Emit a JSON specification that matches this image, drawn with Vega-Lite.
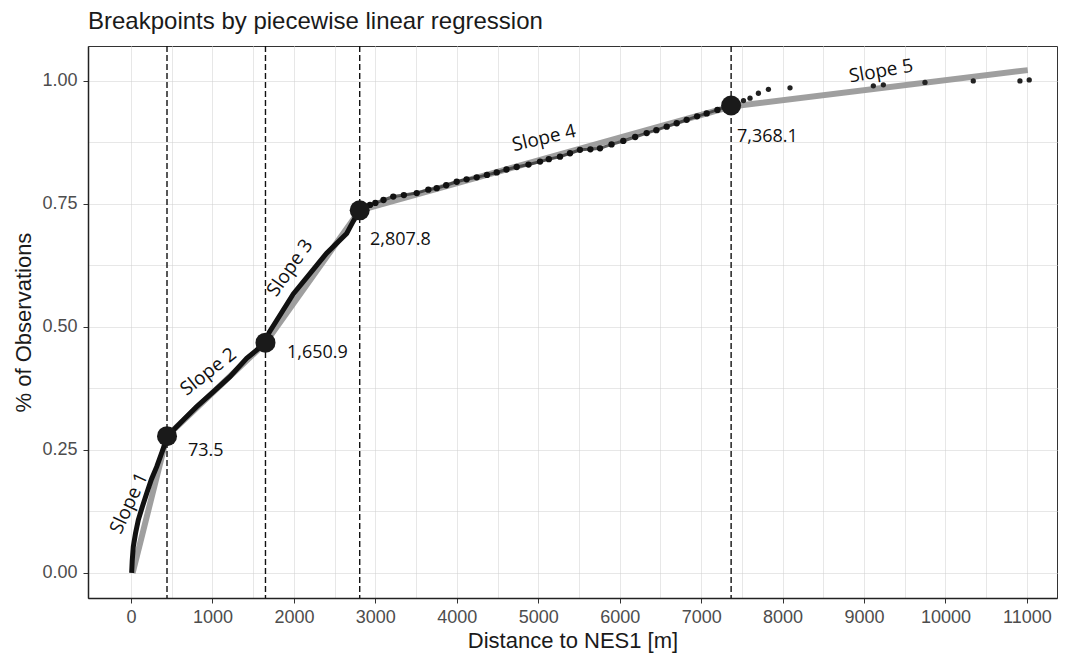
{
  "$schema": "https://vega.github.io/schema/vega-lite/v6.json",
  "autosize": "none",
  "width": 969,
  "height": 552,
  "padding": {"left": 88, "top": 46, "right": 10, "bottom": 60},
  "background": "white",
  "title": {"text": "Breakpoints by piecewise linear regression", "anchor": "start", "frame": "group", "font": "Liberation Sans", "fontSize": 24, "fontWeight": "normal", "color": "#1a1a1a", "offset": 11},
  "config": {
    "view": {"stroke": "#333333", "strokeWidth": 1},
    "axis": {"labelFont": "Liberation Sans", "labelFontSize": 18, "labelColor": "#4d4d4d", "titleFont": "Liberation Sans", "titleFontSize": 22, "titleFontWeight": "normal", "titleColor": "#1a1a1a", "domainColor": "#222222", "domainWidth": 1.5, "tickColor": "#333333", "tickSize": 5, "gridColor": "#cfcfcf", "gridDash": [1, 1], "gridWidth": 1}
  },
  "datasets": {
    "obs": [
      {"x": 8, "y": 0.0}, {"x": 15, "y": 0.025}, {"x": 28, "y": 0.053}, {"x": 55, "y": 0.08}, {"x": 90, "y": 0.108}, {"x": 140, "y": 0.135}, {"x": 193, "y": 0.162}, {"x": 250, "y": 0.19}, {"x": 316, "y": 0.216}, {"x": 397, "y": 0.253}, {"x": 446, "y": 0.278},
      {"x": 642, "y": 0.311}, {"x": 807, "y": 0.338}, {"x": 1010, "y": 0.368}, {"x": 1215, "y": 0.399}, {"x": 1420, "y": 0.436}, {"x": 1624, "y": 0.464},
      {"x": 1700, "y": 0.49}, {"x": 1993, "y": 0.567}, {"x": 2402, "y": 0.65}, {"x": 2648, "y": 0.69}, {"x": 2729, "y": 0.715}, {"x": 2808, "y": 0.737}
    ],
    "dots": [
      {"x": 2860, "y": 0.742}, {"x": 2934, "y": 0.748}, {"x": 3000, "y": 0.752}, {"x": 3100, "y": 0.758}, {"x": 3220, "y": 0.765}, {"x": 3350, "y": 0.768}, {"x": 3508, "y": 0.772}, {"x": 3650, "y": 0.779}, {"x": 3753, "y": 0.782}, {"x": 3870, "y": 0.788}, {"x": 3999, "y": 0.795}, {"x": 4120, "y": 0.8}, {"x": 4244, "y": 0.804}, {"x": 4370, "y": 0.809}, {"x": 4490, "y": 0.814}, {"x": 4610, "y": 0.82}, {"x": 4735, "y": 0.825}, {"x": 4880, "y": 0.83}, {"x": 5022, "y": 0.836}, {"x": 5130, "y": 0.841}, {"x": 5267, "y": 0.846}, {"x": 5390, "y": 0.853}, {"x": 5512, "y": 0.86}, {"x": 5640, "y": 0.861}, {"x": 5758, "y": 0.863}, {"x": 5900, "y": 0.871}, {"x": 6044, "y": 0.878}, {"x": 6190, "y": 0.886}, {"x": 6331, "y": 0.894}, {"x": 6450, "y": 0.9}, {"x": 6577, "y": 0.907}, {"x": 6700, "y": 0.914}, {"x": 6822, "y": 0.921}, {"x": 6950, "y": 0.928}, {"x": 7068, "y": 0.934}, {"x": 7200, "y": 0.941}, {"x": 7354, "y": 0.951}
    ],
    "tail": [
      {"x": 7520, "y": 0.96}, {"x": 7600, "y": 0.965}, {"x": 7703, "y": 0.975}, {"x": 7826, "y": 0.983}, {"x": 8091, "y": 0.986}, {"x": 9114, "y": 0.99}, {"x": 9237, "y": 0.992}, {"x": 9748, "y": 0.997}, {"x": 10341, "y": 1.0}, {"x": 10914, "y": 1.0}, {"x": 11028, "y": 1.002}
    ],
    "fit": [
      {"x": 20, "y": 0.0}, {"x": 442, "y": 0.278}, {"x": 1651, "y": 0.468}, {"x": 2808, "y": 0.737}, {"x": 7368, "y": 0.948}, {"x": 11010, "y": 1.022}
    ],
    "breaks": [
      {"x": 442, "y": 0.278}, {"x": 1651, "y": 0.468}, {"x": 2808, "y": 0.737}, {"x": 7368, "y": 0.95}
    ],
    "breaklabels": [
      {"x": 700, "y": 0.248, "text": "73.5"}, {"x": 1915, "y": 0.447, "text": "1,650.9"}, {"x": 2934, "y": 0.677, "text": "2,807.8"}, {"x": 7440, "y": 0.886, "text": "7,368.1"}
    ],
    "slopes": [
      {"x": -25, "y": 0.142, "text": "Slope 1"}, {"x": 949, "y": 0.409, "text": "Slope 2"}, {"x": 1952, "y": 0.62, "text": "Slope 3"}, {"x": 5071, "y": 0.884, "text": "Slope 4"}, {"x": 9208, "y": 1.02, "text": "Slope 5"}
    ]
  },
  "layer": [
    {
      "data": {"name": "fit"},
      "mark": {"type": "line", "color": "#9a9a9a", "strokeWidth": 6, "opacity": 0.95},
      "encoding": {
        "x": {"field": "x", "type": "quantitative", "scale": {"domain": [-528, 11369], "nice": false, "zero": false},
          "axis": {"title": "Distance to NES1 [m]", "values": [0, 500, 1000, 1500, 2000, 2500, 3000, 3500, 4000, 4500, 5000, 5500, 6000, 6500, 7000, 7500, 8000, 8500, 9000, 9500, 10000, 10500, 11000],
            "labelExpr": "datum.value % 1000 === 0 ? format(datum.value, 'd') : ''",
            "tickOpacity": {"condition": {"test": "datum.value % 1000 !== 0", "value": 0}, "value": 1},
            "labelPadding": 5, "titlePadding": 4}},
        "y": {"field": "y", "type": "quantitative", "scale": {"domain": [-0.051, 1.071], "nice": false, "zero": false},
          "axis": {"title": "% of Observations", "values": [0, 0.125, 0.25, 0.375, 0.5, 0.625, 0.75, 0.875, 1.0],
            "labelExpr": "(datum.value * 100) % 25 === 0 ? format(datum.value, '.2f') : ''",
            "tickOpacity": {"condition": {"test": "(datum.value * 100) % 25 !== 0", "value": 0}, "value": 1},
            "labelPadding": 6, "titlePadding": 6}},
        "order": {"field": "x", "type": "quantitative"}
      }
    },
    {
      "data": {"name": "obs"},
      "mark": {"type": "line", "color": "#111111", "strokeWidth": 5},
      "encoding": {"x": {"field": "x", "type": "quantitative"}, "y": {"field": "y", "type": "quantitative"}, "order": {"field": "x", "type": "quantitative"}}
    },
    {
      "data": {"name": "dots"},
      "mark": {"type": "line", "color": "#2a2a2a", "strokeWidth": 3, "opacity": 0.75},
      "encoding": {"x": {"field": "x", "type": "quantitative"}, "y": {"field": "y", "type": "quantitative"}, "order": {"field": "x", "type": "quantitative"}}
    },
    {
      "data": {"name": "dots"},
      "mark": {"type": "point", "filled": true, "color": "#111111", "size": 40, "opacity": 1},
      "encoding": {"x": {"field": "x", "type": "quantitative"}, "y": {"field": "y", "type": "quantitative"}}
    },
    {
      "data": {"name": "tail"},
      "mark": {"type": "point", "filled": true, "color": "#222222", "size": 28, "opacity": 1},
      "encoding": {"x": {"field": "x", "type": "quantitative"}, "y": {"field": "y", "type": "quantitative"}}
    },
    {
      "data": {"name": "breaks"},
      "mark": {"type": "rule", "color": "#111111", "strokeWidth": 1.4, "strokeDash": [6, 3]},
      "encoding": {"x": {"field": "x", "type": "quantitative"}}
    },
    {
      "data": {"name": "breaks"},
      "mark": {"type": "point", "filled": true, "color": "#1a1a1a", "size": 400, "opacity": 1},
      "encoding": {"x": {"field": "x", "type": "quantitative"}, "y": {"field": "y", "type": "quantitative"}}
    },
    {
      "data": {"name": "breaklabels"},
      "mark": {"type": "text", "align": "left", "baseline": "middle", "font": "Open Sans", "fontSize": 18, "color": "#111111"},
      "encoding": {"x": {"field": "x", "type": "quantitative"}, "y": {"field": "y", "type": "quantitative"}, "text": {"field": "text"}}
    },
    {
      "data": {"name": "slopes"},
      "transform": [{"filter": "datum.text === 'Slope 1'"}],
      "mark": {"type": "text", "align": "center", "baseline": "middle", "font": "Open Sans", "fontSize": 19, "color": "#111111", "angle": 295},
      "encoding": {"x": {"field": "x", "type": "quantitative"}, "y": {"field": "y", "type": "quantitative"}, "text": {"field": "text"}}
    },
    {
      "data": {"name": "slopes"},
      "transform": [{"filter": "datum.text === 'Slope 2'"}],
      "mark": {"type": "text", "align": "center", "baseline": "middle", "font": "Open Sans", "fontSize": 19, "color": "#111111", "angle": 322},
      "encoding": {"x": {"field": "x", "type": "quantitative"}, "y": {"field": "y", "type": "quantitative"}, "text": {"field": "text"}}
    },
    {
      "data": {"name": "slopes"},
      "transform": [{"filter": "datum.text === 'Slope 3'"}],
      "mark": {"type": "text", "align": "center", "baseline": "middle", "font": "Open Sans", "fontSize": 19, "color": "#111111", "angle": 305},
      "encoding": {"x": {"field": "x", "type": "quantitative"}, "y": {"field": "y", "type": "quantitative"}, "text": {"field": "text"}}
    },
    {
      "data": {"name": "slopes"},
      "transform": [{"filter": "datum.text === 'Slope 4'"}],
      "mark": {"type": "text", "align": "center", "baseline": "middle", "font": "Open Sans", "fontSize": 19, "color": "#111111", "angle": 347},
      "encoding": {"x": {"field": "x", "type": "quantitative"}, "y": {"field": "y", "type": "quantitative"}, "text": {"field": "text"}}
    },
    {
      "data": {"name": "slopes"},
      "transform": [{"filter": "datum.text === 'Slope 5'"}],
      "mark": {"type": "text", "align": "center", "baseline": "middle", "font": "Open Sans", "fontSize": 19, "color": "#111111", "angle": 350},
      "encoding": {"x": {"field": "x", "type": "quantitative"}, "y": {"field": "y", "type": "quantitative"}, "text": {"field": "text"}}
    }
  ]
}
